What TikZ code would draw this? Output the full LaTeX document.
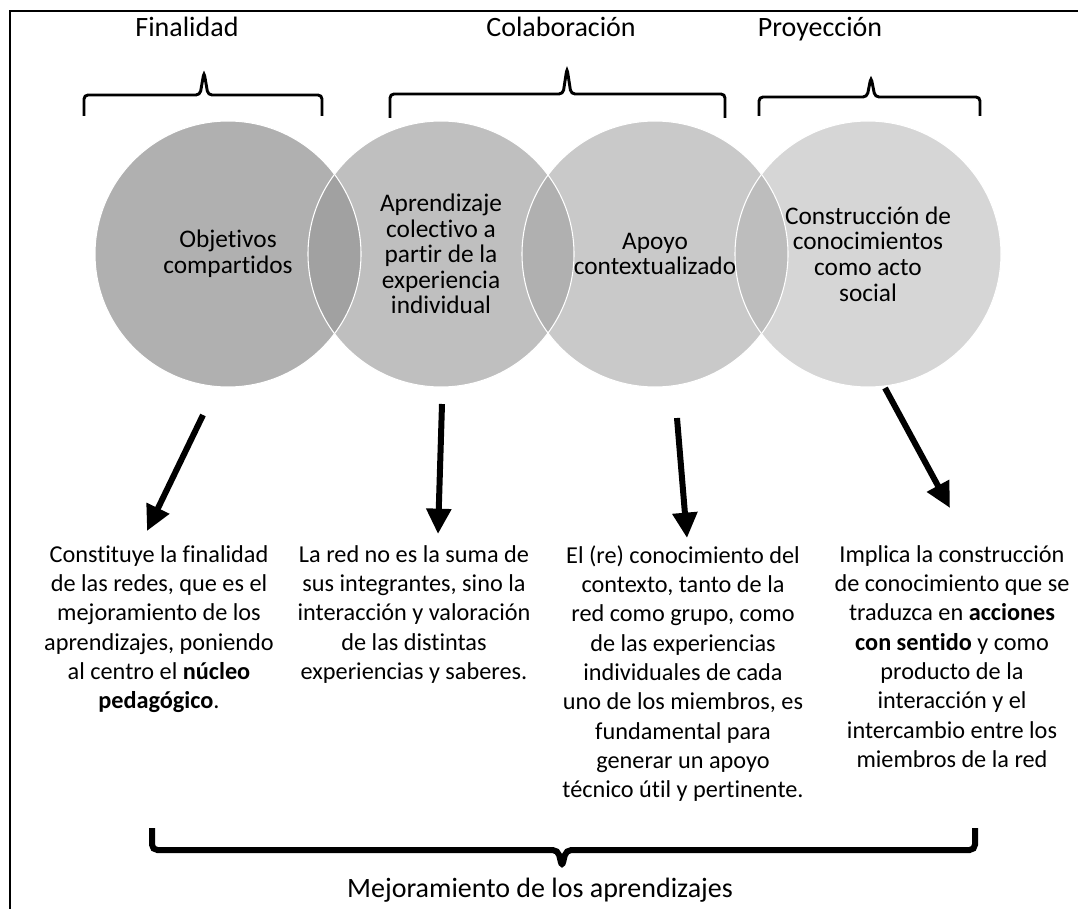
\documentclass[tikz,border=0pt]{standalone}
\usepackage{fontspec}
\setmainfont[Ligatures=NoCommon]{Carlito}
\usetikzlibrary{arrows.meta,positioning,calc}

\definecolor{shadeA}{gray}{0.69}
\definecolor{shadeB}{gray}{0.75}
\definecolor{shadeC}{gray}{0.79}
\definecolor{shadeD}{gray}{0.84}
\definecolor{lensAB}{gray}{0.63}
\definecolor{lensBC}{gray}{0.69}
\definecolor{lensCD}{gray}{0.74}

\begin{document}
\begin{tikzpicture}[x=0.75pt,y=-0.75pt]

\tikzstyle{block} = [circle, draw=white, line width=0.8pt, minimum size=199.5pt, inner sep=0pt, align=center, font=\fontsize{19}{19.2}\selectfont]
\tikzstyle{desc} = [anchor=north, inner sep=0pt, align=center, font=\fontsize{18.2}{22}\selectfont]
\tikzstyle{head} = [anchor=base, inner sep=0pt, font=\fontsize{21}{25}\selectfont]
\tikzstyle{bigarrow} = [line width=4.5pt, -{Triangle[length=19pt,width=18pt]}]
\tikzstyle{topbrace} = [line width=2.2pt, rounded corners=3pt]
\tikzstyle{botbrace} = [line width=4.5pt, rounded corners=4pt]
\def\rad{99.75pt}

\useasboundingbox (0,0) rectangle (1078,909);
\draw[line width=1.8pt] (10,909) -- (10,11) -- (1078,11);

% the four circles: fills, overlaps, then the nodes on top
\coordinate (p1) at (228,254);
\coordinate (p2) at (441,254);
\coordinate (p3) at (655,254);
\coordinate (p4) at (868,254);
\fill[shadeA] (p1) circle[radius=\rad];
\fill[shadeB] (p2) circle[radius=\rad];
\fill[shadeC] (p3) circle[radius=\rad];
\fill[shadeD] (p4) circle[radius=\rad];

\begin{scope}
\clip (p1) circle[radius=\rad];
\fill[lensAB] (p2) circle[radius=\rad];
\end{scope}
\begin{scope}
\clip (p2) circle[radius=\rad];
\fill[lensBC] (p3) circle[radius=\rad];
\end{scope}
\begin{scope}
\clip (p3) circle[radius=\rad];
\fill[lensCD] (p4) circle[radius=\rad];
\end{scope}

\node[block] (circ1) at (p1) {Objetivos\\compartidos};
\node[block] (circ2) at (p2) {Aprendizaje\\colectivo a\\partir de la\\experiencia\\individual};
\node[block] (circ3) at (p3) {Apoyo\\contextualizado};
\node[block] (circ4) at (p4) {Construcción de\\conocimientos\\como acto\\social};

% headings and braces
\node[head] (fin) at (187,37) {Finalidad};
\node[head] (col) at (561,37) {Colaboración};
\node[head] (pro) at (820,37) {Proyección};

\draw[topbrace] (84,116) -- (84,95) -- (200,95) -- (204,72) -- (208,95) -- (322,95) -- (322,116);
\draw[topbrace] (390,118) -- (390,94) -- (563,94) -- (567,68) -- (571,94) -- (725,94) -- (725,118);
\draw[topbrace] (759,116) -- (759,97) -- (867,97) -- (871,77) -- (875,97) -- (980,97) -- (980,116);

% descriptions
\node[desc] (txt1) at (159,545) {Constituye la finalidad\\de las redes, que es el\\mejoramiento de los\\aprendizajes, poniendo\\al centro el \textbf{núcleo}\\\textbf{pedagógico}.};
\node[desc] (txt2) at (414,545) {La red no es la suma de\\sus integrantes, sino la\\interacción y valoración\\de las distintas\\experiencias y saberes.};
\node[desc] (txt3) at (683,545) {El (re) conocimiento del\\contexto, tanto de la\\red como grupo, como\\de las experiencias\\individuales de cada\\uno de los miembros, es\\fundamental para\\generar un apoyo\\técnico útil y pertinente.};
\node[desc] (txt4) at (952,545) {Implica la construcción\\de conocimiento que se\\traduzca en \textbf{acciones}\\\textbf{con sentido} y como\\producto de la\\interacción y el\\intercambio entre los\\miembros de la red};

\coordinate (a1s) at (203,415);
\coordinate (a1e) at (147,531);
\coordinate (a2s) at (442,404);
\coordinate (a2e) at (438,534);
\coordinate (a3s) at (677,418);
\coordinate (a3e) at (687,538);
\coordinate (a4s) at (885,388);
\coordinate (a4e) at (950,508);
\draw[bigarrow] (a1s) -- (a1e);
\draw[bigarrow] (a2s) -- (a2e);
\draw[bigarrow] (a3s) -- (a3e);
\draw[bigarrow] (a4s) -- (a4e);

% bottom brace
\draw[botbrace] (152,828) -- (152,850) -- (558,850) -- (562,867) -- (566,850) -- (975,850) -- (975,828);
\node[head] (mej) at (540,897) {Mejoramiento de los aprendizajes};

\end{tikzpicture}
\end{document}
